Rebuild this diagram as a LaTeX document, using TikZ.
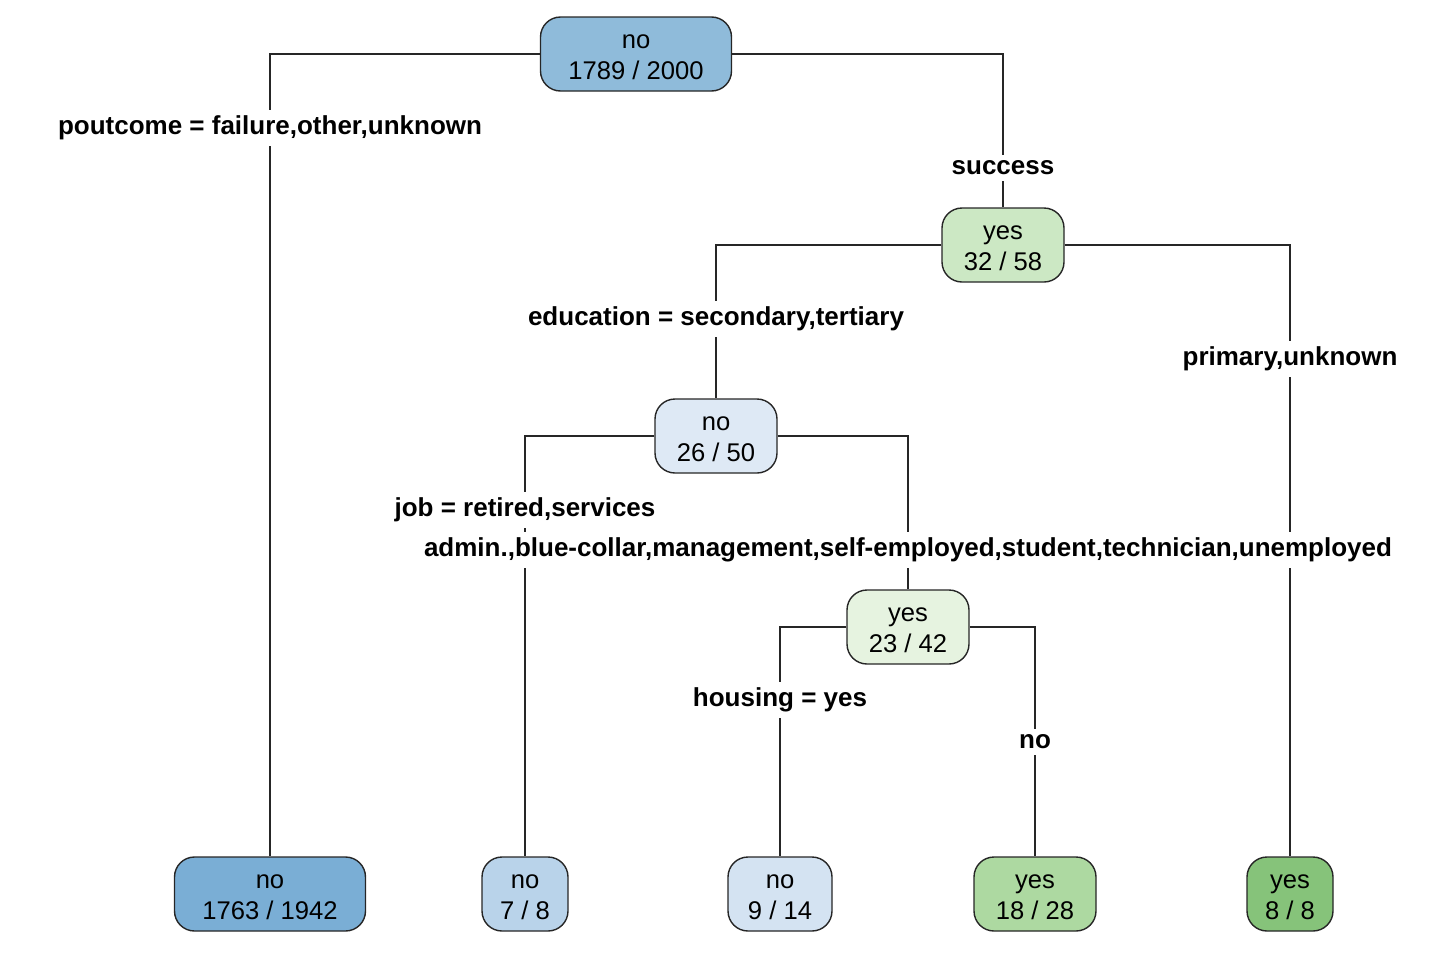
\documentclass[tikz,border=0pt]{standalone}
\usepackage{fontspec}
\setmainfont{Liberation Sans}
\definecolor{cA}{HTML}{8FBBDA}
\definecolor{cB}{HTML}{7AAED5}
\definecolor{cC}{HTML}{B9D3EA}
\definecolor{cD}{HTML}{DEE9F5}
\definecolor{cE}{HTML}{D4E3F2}
\definecolor{cF}{HTML}{CCE8C4}
\definecolor{cG}{HTML}{E6F3E0}
\definecolor{cH}{HTML}{ADD9A1}
\definecolor{cI}{HTML}{86C37A}
\newcommand{\tstrut}{\rule{0pt}{9.8pt}}
\begin{document}
\begin{tikzpicture}[x=0.5pt,y=-0.5pt,
  tnode/.style={draw=black!85, line width=0.7pt, rounded corners=10pt, align=center,
    inner sep=0pt, minimum height=37pt, font=\fontsize{12.8}{15.5}\selectfont},
  edge/.style={draw=black!85, line width=0.6pt},
  elabel/.style={fill=white, inner xsep=1pt, inner ysep=3pt, font=\fontsize{13}{15.5}\selectfont\bfseries}]
\useasboundingbox (0,0) rectangle (1446,964);
% nodes
\node[tnode, fill=cA, minimum width=95.5pt] (root) at (636,54) {\tstrut no\\1789 / 2000};
\node[tnode, fill=cF, minimum width=61pt] (n2) at (1003,245) {\tstrut yes\\32 / 58};
\node[tnode, fill=cD, minimum width=61pt] (n3) at (716,436) {\tstrut no\\26 / 50};
\node[tnode, fill=cG, minimum width=61pt] (n4) at (908,627) {\tstrut yes\\23 / 42};
\node[tnode, fill=cB, minimum width=95.5pt] (l1) at (270,894) {\tstrut no\\1763 / 1942};
\node[tnode, fill=cC, minimum width=43pt] (l2) at (525,894) {\tstrut no\\7 / 8};
\node[tnode, fill=cE, minimum width=52pt] (l3) at (780,894) {\tstrut no\\9 / 14};
\node[tnode, fill=cH, minimum width=61pt] (l4) at (1035,894) {\tstrut yes\\18 / 28};
\node[tnode, fill=cI, minimum width=43pt] (l5) at (1290,894) {\tstrut yes\\8 / 8};
% edges
\draw[edge] (root.west) -| (l1.north);
\draw[edge] (root.east) -| (n2.north);
\draw[edge] (n2.west) -| (n3.north);
\draw[edge] (n2.east) -| (l5.north);
\draw[edge] (n3.west) -| (l2.north);
\draw[edge] (n3.east) -| (n4.north);
\draw[edge] (n4.west) -| (l3.north);
\draw[edge] (n4.east) -| (l4.north);
% labels
\node[elabel] (e1) at (270,128) {poutcome = failure,other,unknown};
\node[elabel] (e2) at (1003,168) {success};
\node[elabel] (e3) at (716,319) {education = secondary,tertiary};
\node[elabel] (e4) at (1290,359) {primary,unknown};
\node[elabel] (e5) at (525,510) {job = retired,services};
\node[elabel] (e6) at (908,550) {admin.,blue-collar,management,self-employed,student,technician,unemployed};
\node[elabel] (e7) at (780,700) {housing = yes};
\node[elabel] (e8) at (1035,742) {no};
\end{tikzpicture}
\end{document}
